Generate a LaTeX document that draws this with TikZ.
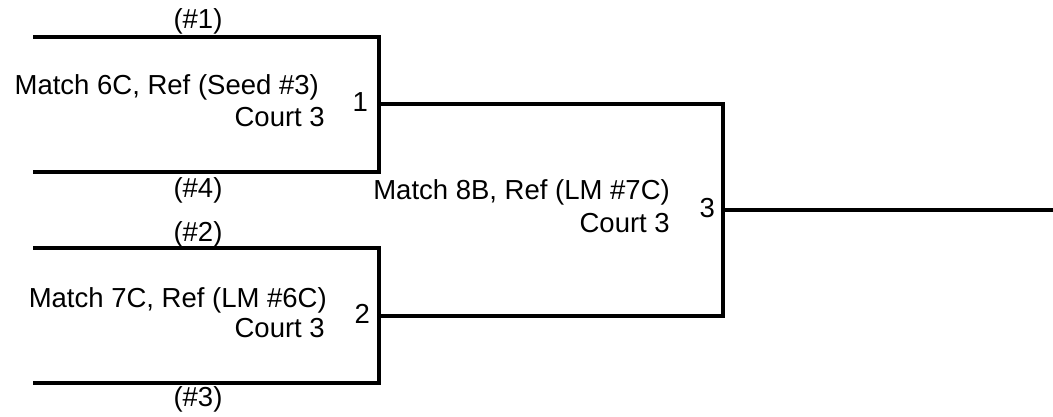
\documentclass[tikz,border=0pt]{standalone}
\usepackage{fontspec}
\setmainfont{Liberation Sans}
\begin{document}
\begin{tikzpicture}[x=1pt,y=-1pt,
  bline/.style={line width=3.6pt,line join=miter,line cap=rect},
  lbl/.style={inner sep=0pt,font=\fontsize{27.5}{31}\selectfont}]
\useasboundingbox (0,0) rectangle (1053,417);
% match 1 bracket
\coordinate (a1) at (35,37);
\coordinate (a2) at (379,37);
\coordinate (a3) at (379,172);
\coordinate (a4) at (35,172);
% match 2 bracket
\coordinate (b1) at (35,248);
\coordinate (b2) at (379,248);
\coordinate (b3) at (379,383);
\coordinate (b4) at (35,383);
% match 3 bracket
\coordinate (c1) at (379,104);
\coordinate (c2) at (723,104);
\coordinate (c3) at (723,316);
\coordinate (c4) at (379,316);
\coordinate (d1) at (723,210);
\coordinate (d2) at (1053,210);
\draw[bline] (a1) -- (a2) -- (a3) -- (a4);
\draw[bline] (b1) -- (b2) -- (b3) -- (b4);
\draw[bline] (c1) -- (c2) -- (c3) -- (c4);
\draw[bline] (d1) -- (d2);
% labels
\node[lbl,anchor=base] (s1) at (198,29) {(\#1)};
\node[lbl,anchor=base] (s4) at (198,197) {(\#4)};
\node[lbl,anchor=base] (s2) at (198,241) {(\#2)};
\node[lbl,anchor=base] (s3) at (198,406) {(\#3)};
\node[lbl,anchor=base east] (m1) at (319,95) {Match 6C, Ref (Seed \#3)};
\node[lbl,anchor=base east] (m1c) at (325,127) {Court 3};
\node[lbl,anchor=base east] (n1) at (368,112) {1};
\node[lbl,anchor=base east] (m2) at (327,307) {Match 7C, Ref (LM \#6C)};
\node[lbl,anchor=base east] (m2c) at (325,337) {Court 3};
\node[lbl,anchor=base east] (n2) at (370,323) {2};
\node[lbl,anchor=base east] (m3) at (670,200) {Match 8B, Ref (LM \#7C)};
\node[lbl,anchor=base east] (m3c) at (670,233) {Court 3};
\node[lbl,anchor=base east] (n3) at (715,218) {3};
\end{tikzpicture}
\end{document}
